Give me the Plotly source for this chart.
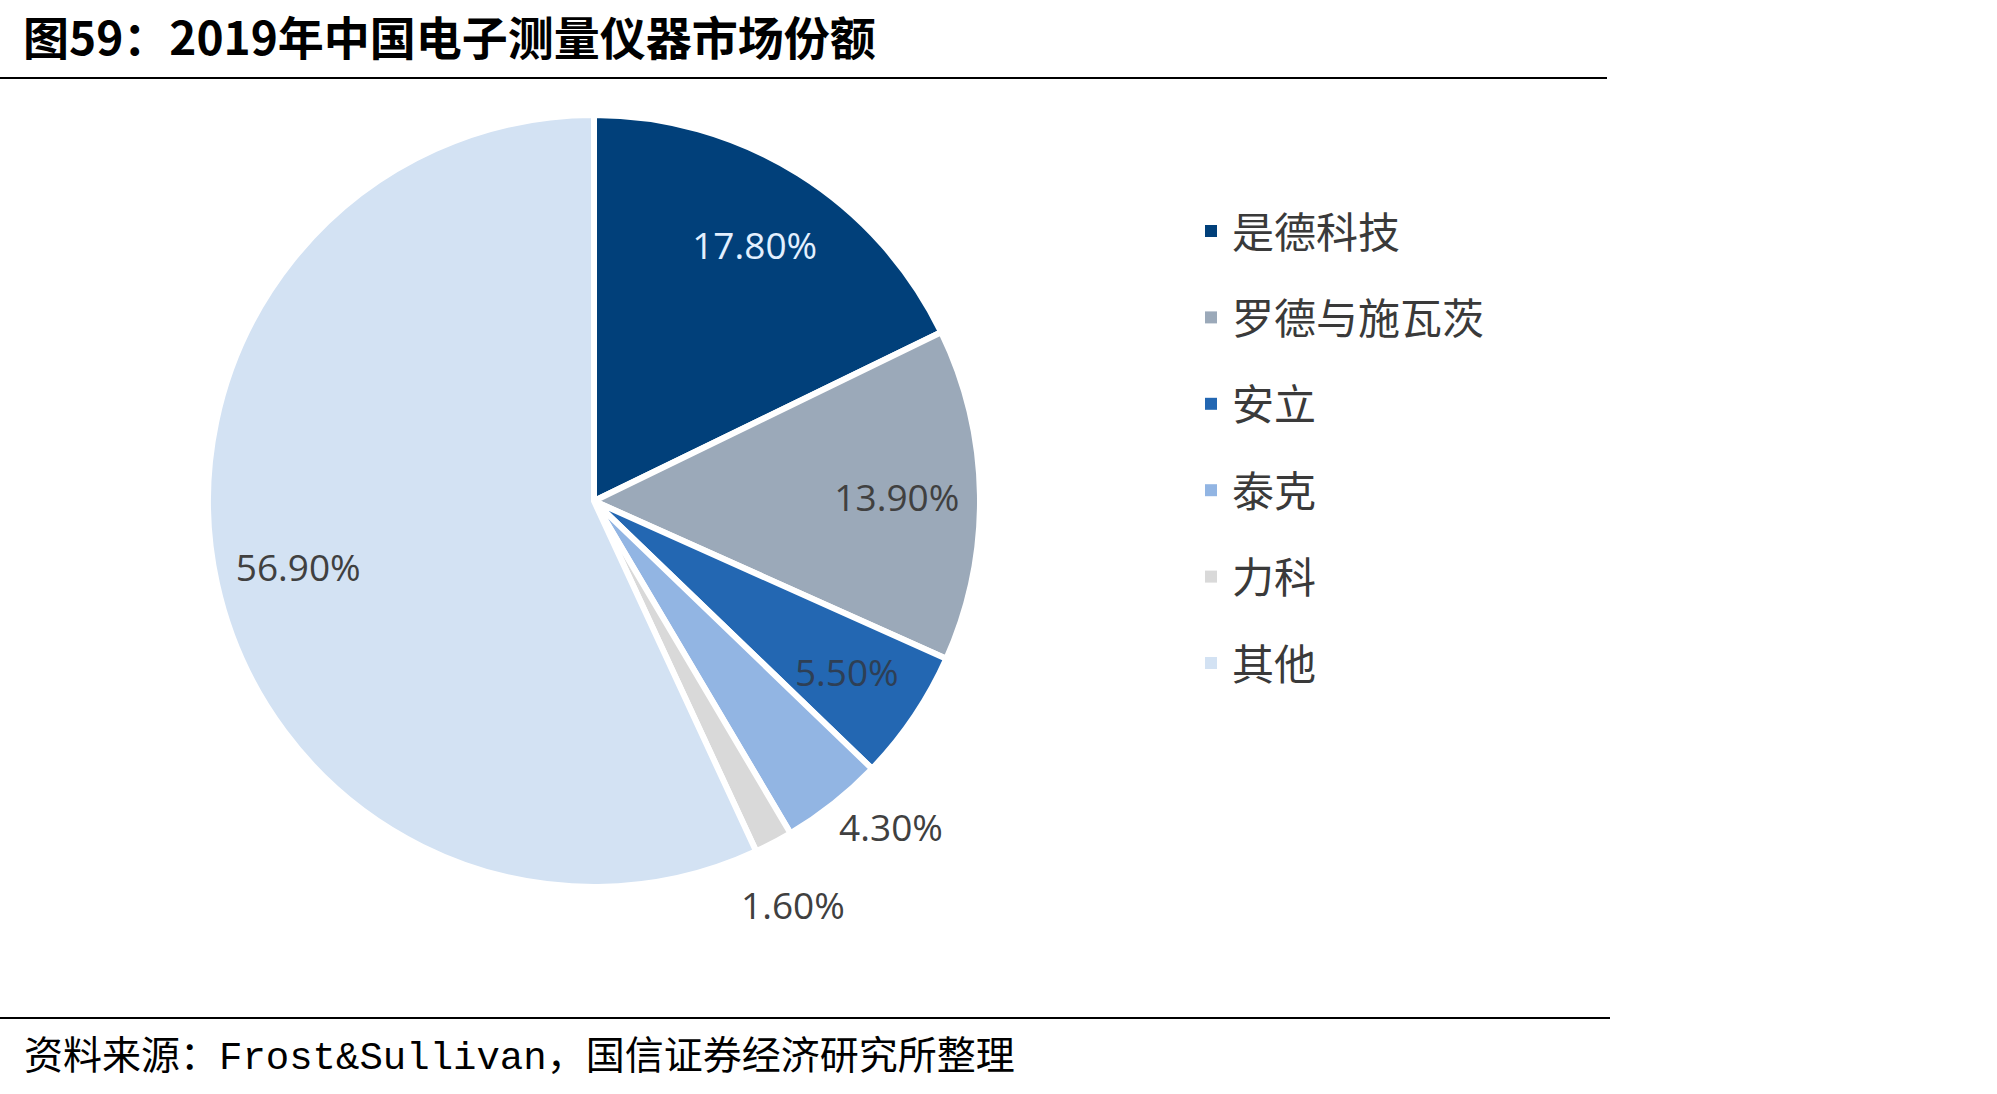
import plotly.graph_objects as go

W, H = 1997, 1094

title_text = "图59：2019年中国电子测量仪器市场份额"
source_text = "资料来源：Frost&Sullivan，国信证券经济研究所整理"

labels = ["是德科技", "罗德与施瓦茨", "安立", "泰克", "力科", "其他"]
values = [17.8, 13.9, 5.5, 4.3, 1.6, 56.9]
colors = ["#01407A", "#9BA9B9", "#2367B2", "#92B5E3", "#D9D9D9", "#D3E2F3"]
text_colors = ["#E3F0FF", "#404040", "#2E3F55", "#404040", "#404040", "#404040"]


def px_x(x):
    return x / W


def px_y(y):
    return 1 - y / H


def domain(cx, cy, rad):
    return dict(x=[px_x(cx - rad), px_x(cx + rad)], y=[px_y(cy + rad), px_y(cy - rad)])


cx, cy, r = 594, 501, 386
LABEL_FONT = dict(family="Open Sans", size=37)
transparent = ["rgba(0,0,0,0)"] * len(values)

fig = go.Figure()
# visible pie
fig.add_trace(go.Pie(
    labels=labels, values=values, sort=False, direction="clockwise", rotation=0,
    marker=dict(colors=colors, line=dict(color="white", width=6)),
    textinfo="none", domain=domain(cx, cy, r), hoverinfo="none", showlegend=False,
))


def label_ring(show_idx, rad_frac, hole, rotation=0):
    """Transparent ring with the same slices, used only to place value labels."""
    fig.add_trace(go.Pie(
        labels=labels, values=values, sort=False, direction="clockwise", rotation=rotation,
        hole=hole,
        marker=dict(colors=transparent, line=dict(width=0)),
        texttemplate="%{value:.2f}%",
        textposition=["inside" if i in show_idx else "none" for i in range(len(values))],
        insidetextorientation="horizontal",
        textfont=dict(color=text_colors, **LABEL_FONT),
        domain=domain(cx, cy, rad_frac * r), hoverinfo="none", showlegend=False,
    ))


label_ring([0, 1, 5], 0.961, 0.633)      # large slices
label_ring([2], 0.926, 0.706)            # 安立
label_ring([3], 1.19, 0.92, rotation=-4)  # 泰克 (outside)
label_ring([4], 1.215, 0.92, rotation=1.5)  # 力科 (outside)

shapes = [
    dict(type="line", xref="paper", yref="paper", x0=0, x1=px_x(1607),
         y0=px_y(78), y1=px_y(78), line=dict(color="black", width=2)),
    dict(type="line", xref="paper", yref="paper", x0=0, x1=px_x(1610),
         y0=px_y(1018), y1=px_y(1018), line=dict(color="black", width=2)),
]
annotations = [
    dict(text="<b>" + title_text + "</b>", xref="paper", yref="paper",
         x=px_x(21), y=px_y(35), xanchor="left", yanchor="middle", showarrow=False,
         font=dict(family="Noto Sans CJK SC", size=46, color="black")),
    dict(text=source_text, xref="paper", yref="paper",
         x=px_x(22), y=px_y(1058), xanchor="left", yanchor="middle", showarrow=False,
         font=dict(family="Liberation Mono, Noto Sans CJK SC", size=39, color="black")),
]

# custom legend
leg_y0, leg_step = 229, 86.4
for i, (lab, col) in enumerate(zip(labels, colors)):
    yc = leg_y0 + i * leg_step
    shapes.append(dict(type="rect", xref="paper", yref="paper",
                       x0=px_x(1205), x1=px_x(1217), y0=px_y(yc + 8), y1=px_y(yc - 4),
                       fillcolor=col, line=dict(width=0)))
    annotations.append(dict(text=lab, xref="paper", yref="paper",
                            x=px_x(1230), y=px_y(yc), xanchor="left", yanchor="middle",
                            showarrow=False,
                            font=dict(family="Noto Sans CJK SC", size=42, color="#3A3A3A")))

fig.update_layout(
    width=W, height=H,
    margin=dict(l=0, r=0, t=0, b=0),
    paper_bgcolor="white", plot_bgcolor="white",
    shapes=shapes, annotations=annotations,
    uniformtext=dict(minsize=37, mode="show"),
)

fig.write_html("out.html")
